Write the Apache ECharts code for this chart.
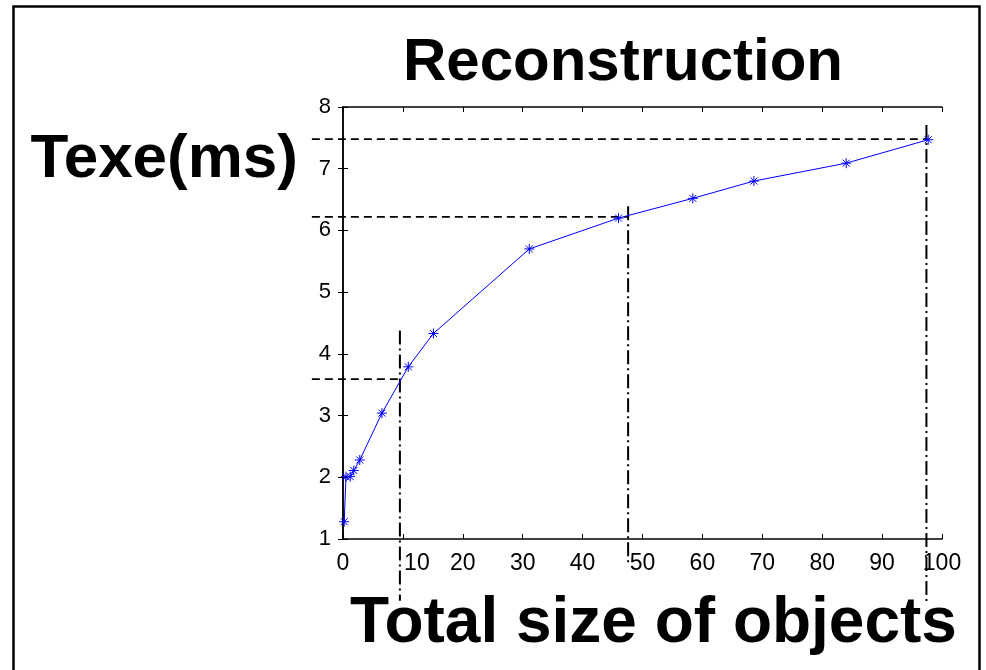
<!DOCTYPE html>
<html>
<head>
<meta charset="utf-8">
<script src="https://cdn.jsdelivr.net/npm/echarts@6/dist/echarts.min.js"></script>
<style>html,body{margin:0;padding:0;background:#fff;}#c{width:986px;height:670px;}</style>
</head>
<body>
<div id="c"></div>
<script>
var titleText = 'Reconstruction';
var xName = 'Total size of objects';
var yName = 'Texe(ms)';
var xTicks = [0, 10, 20, 30, 40, 50, 60, 70, 80, 90, 100];
var yTicks = [1, 2, 3, 4, 5, 6, 7, 8];
var sizes = [0.2, 0.5, 1.2, 1.8, 2.8, 6.5, 10.9, 15.1, 31.1, 46.0, 58.4, 68.6, 84.0, 97.7];
var times = [1.28, 2.01, 2.01, 2.11, 2.28, 3.04, 3.79, 4.33, 5.70, 6.20, 6.52, 6.80, 7.09, 7.47];
var hRef1 = [[-5.2, 3.59], [9.5, 3.59]];
var vRef1 = [[9.5, 4.38], [9.5, 0.0]];
var hRef2 = [[-5.2, 6.22], [47.6, 6.22]];
var vRef2 = [[47.6, 6.39], [47.6, 0.6]];
var hRef3 = [[-5.2, 7.48], [97.4, 7.48]];
var vRef3 = [[97.4, 7.71], [97.4, -0.05]];

var chart = echarts.init(document.getElementById('c'));
var FONT = '"Liberation Sans", Arial, Helvetica, sans-serif';
var refLines = [
  {pts: hRef1, dash: [8, 5], w: 1.6},
  {pts: hRef2, dash: [8, 5], w: 1.6},
  {pts: hRef3, dash: [8, 5], w: 1.6},
  {pts: vRef1, dash: [14, 4, 2, 4], w: 2},
  {pts: vRef2, dash: [14, 4, 2, 4], w: 2},
  {pts: vRef3, dash: [14, 4, 2, 4], w: 2}
];
var refData = refLines.map(function (r, i) { return [i]; });
function toPx(api, pt) {
  // linear mapping through the axes (extrapolates outside the axis range)
  var base = api.coord([0, 1]);
  var unit = api.size([1, 1]);
  return [base[0] + pt[0] * unit[0], base[1] - (pt[1] - 1) * unit[1]];
}
var asterisk = 'path://M5 0L5 10M0 5L10 5M1.5 1.5L8.5 8.5M1.5 8.5L8.5 1.5';
chart.setOption({
  backgroundColor: '#fff',
  animation: false,
  title: {
    text: titleText, left: 623, top: 33, textAlign: 'center', padding: 0,
    textStyle: {fontFamily: FONT, fontSize: 60, fontWeight: 'bold', color: '#000'}
  },
  graphic: [{
    type: 'rect', shape: {x: 13.5, y: 6.5, width: 966, height: 720},
    style: {fill: 'none', stroke: '#000', lineWidth: 2.5}, silent: true
  }],
  grid: {left: 343, right: 44, top: 107, bottom: 131, containLabel: false},
  xAxis: [{
    type: 'value', min: 0, max: 100, interval: 10,
    name: xName, nameLocation: 'middle', nameGap: 53,
    nameTextStyle: {fontFamily: FONT, fontSize: 64, fontWeight: 'bold', color: '#000', padding: [0, 0, 0, 22]},
    axisLine: {show: true, lineStyle: {color: '#000', width: 1.5}},
    axisTick: {show: true, inside: true, length: 5, lineStyle: {color: '#000'}},
    axisLabel: {fontFamily: FONT, fontSize: 23, color: '#000', margin: 13,
      formatter: function (v) { return v === 10 ? '{p|10}' : String(v); },
      rich: {p: {fontFamily: FONT, fontSize: 23, color: '#000', padding: [0, 0, 0, 28]}}},
    splitLine: {show: false}
  }, {
    type: 'value', min: 0, max: 100, interval: 10, position: 'top',
    axisLine: {show: true, lineStyle: {color: '#000', width: 1.5}},
    axisTick: {show: true, inside: true, length: 5, lineStyle: {color: '#000'}},
    axisLabel: {show: false}, splitLine: {show: false}
  }],
  yAxis: [{
    type: 'value', min: 1, max: 8, interval: 1,
    name: yName, nameLocation: 'end', nameGap: -53,
    nameTextStyle: {fontFamily: FONT, fontSize: 62, fontWeight: 'bold', color: '#000', align: 'right', verticalAlign: 'middle', padding: [0, 45, 0, 0]},
    axisLine: {show: true, lineStyle: {color: '#000', width: 1.5}},
    axisTick: {show: true, inside: true, length: 5, lineStyle: {color: '#000'}},
    axisLabel: {fontFamily: FONT, fontSize: 22, color: '#000', margin: 12},
    splitLine: {show: false}
  }, {
    type: 'value', min: 1, max: 8, interval: 1, position: 'right',
    axisLine: {show: true, lineStyle: {color: '#000', width: 1.5}},
    axisTick: {show: true, inside: true, length: 5, lineStyle: {color: '#000'}},
    axisLabel: {show: false}, splitLine: {show: false}
  }],
  series: [
    {
      type: 'custom', data: refData, silent: true, clip: false, z: 1,
      renderItem: function (params, api) {
        var r = refLines[api.value(0)];
        return {
          type: 'polyline',
          shape: {points: r.pts.map(function (p) { return toPx(api, p); })},
          style: {stroke: '#000', lineWidth: r.w, lineDash: r.dash, fill: null}
        };
      }
    },
    {
      type: 'line', z: 3,
      data: sizes.map(function (x, i) { return [x, times[i]]; }),
      lineStyle: {color: '#0000ff', width: 1},
      symbol: asterisk, symbolSize: 10, showSymbol: true,
      itemStyle: {color: 'none', borderColor: '#0000ff', borderWidth: 1}
    }
  ]
});
</script>
</body>
</html>
